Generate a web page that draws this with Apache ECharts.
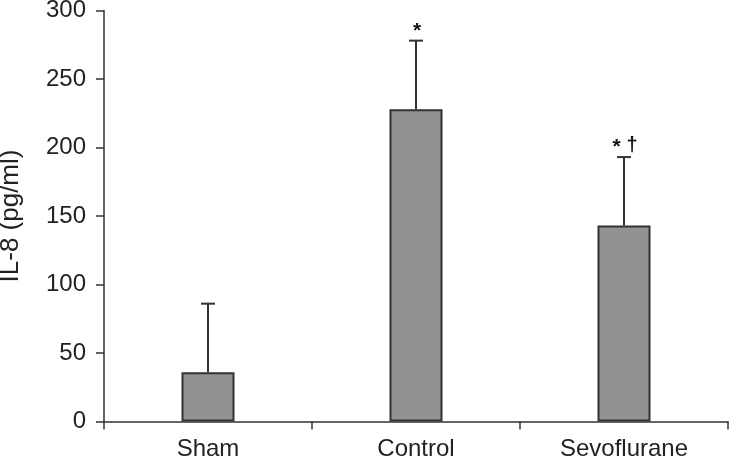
<!DOCTYPE html>
<html>
<head>
<meta charset="utf-8">
<script src="https://cdn.jsdelivr.net/npm/echarts@6/dist/echarts.min.js"></script>
<style>
  html, body { margin: 0; padding: 0; background: #fff; }
  #chart { width: 734px; height: 462px; }
</style>
</head>
<body>
<div id="chart"></div>
<script>
// data
const categories = ['Sham', 'Control', 'Sevoflurane']
const means = [36, 228, 143]
const upperErr = [86, 278, 193]
const marks = ['', '{s|*}', '{s|*} {d|\u2020}']
const yTicks = [0, 50, 100, 150, 200, 250, 300]

const FONT = 'Liberation Sans, Arial, sans-serif'
const DARK = '#333333'

const chart = echarts.init(document.getElementById('chart'))

// error bars + significance marks
const errData = categories.map((c, i) => [i, means[i], upperErr[i]])

const option = {
  animation: false,
  grid: { left: 104, right: 6, top: 10.5, bottom: 40.5, outerBoundsMode: 'none' },
  xAxis: {
    type: 'category',
    data: categories,
    axisLine: { lineStyle: { color: DARK, width: 1.5 } },
    axisTick: { show: true, length: 8, lineStyle: { color: DARK, width: 1.5 } },
    axisLabel: { color: '#222', fontSize: 24, fontFamily: FONT, margin: 16 },
  },
  yAxis: {
    type: 'value',
    min: yTicks[0],
    max: yTicks[yTicks.length - 1],
    interval: 50,
    name: 'IL-8 (pg/ml)',
    nameLocation: 'middle',
    nameGap: 80,
    nameTextStyle: { color: '#222', fontSize: 26, fontFamily: FONT },
    splitLine: { show: false },
    axisLine: { show: true, lineStyle: { color: DARK, width: 1.5 } },
    axisTick: { show: true, length: 8, lineStyle: { color: DARK, width: 1.5 } },
    axisLabel: { color: '#222', fontSize: 24, fontFamily: FONT, margin: 18 },
  },
  series: [
    {
      type: 'bar',
      data: means,
      barWidth: 53,
      itemStyle: { color: '#929292', borderColor: DARK, borderWidth: 2 },
    },
    {
      type: 'custom',
      data: errData,
      z: 5,
      renderItem: function (params, api) {
        const x = api.value(0)
        const base = api.coord([x, api.value(1)])
        const top = api.coord([x, api.value(2)])
        const half = 7
        const mark = marks[params.dataIndex]
        return {
          type: 'group',
          children: [
            {
              type: 'line',
              shape: { x1: base[0], y1: base[1], x2: top[0], y2: top[1] },
              style: { stroke: DARK, lineWidth: 2 },
            },
            {
              type: 'line',
              shape: { x1: top[0] - half, y1: top[1], x2: top[0] + half, y2: top[1] },
              style: { stroke: DARK, lineWidth: 2 },
            },
            {
              type: 'text',
              style: {
                text: mark,
                x: top[0] + 1,
                y: top[1] + 1,
                align: 'center',
                verticalAlign: 'bottom',
                fill: '#111',
                fontSize: 21,
                fontWeight: 'bold',
                fontFamily: FONT,
                rich: {
                  s: { fontSize: 21, fontWeight: 'bold', fontFamily: FONT, fill: '#111', verticalAlign: 'bottom' },
                  d: { fontSize: 20, fontWeight: 'bold', fontFamily: FONT, fill: '#111', verticalAlign: 'bottom', padding: [0, 0, 3, 0] },
                },
              },
            },
          ],
        }
      },
    },
  ],
}

chart.setOption(option)
</script>
</body>
</html>
